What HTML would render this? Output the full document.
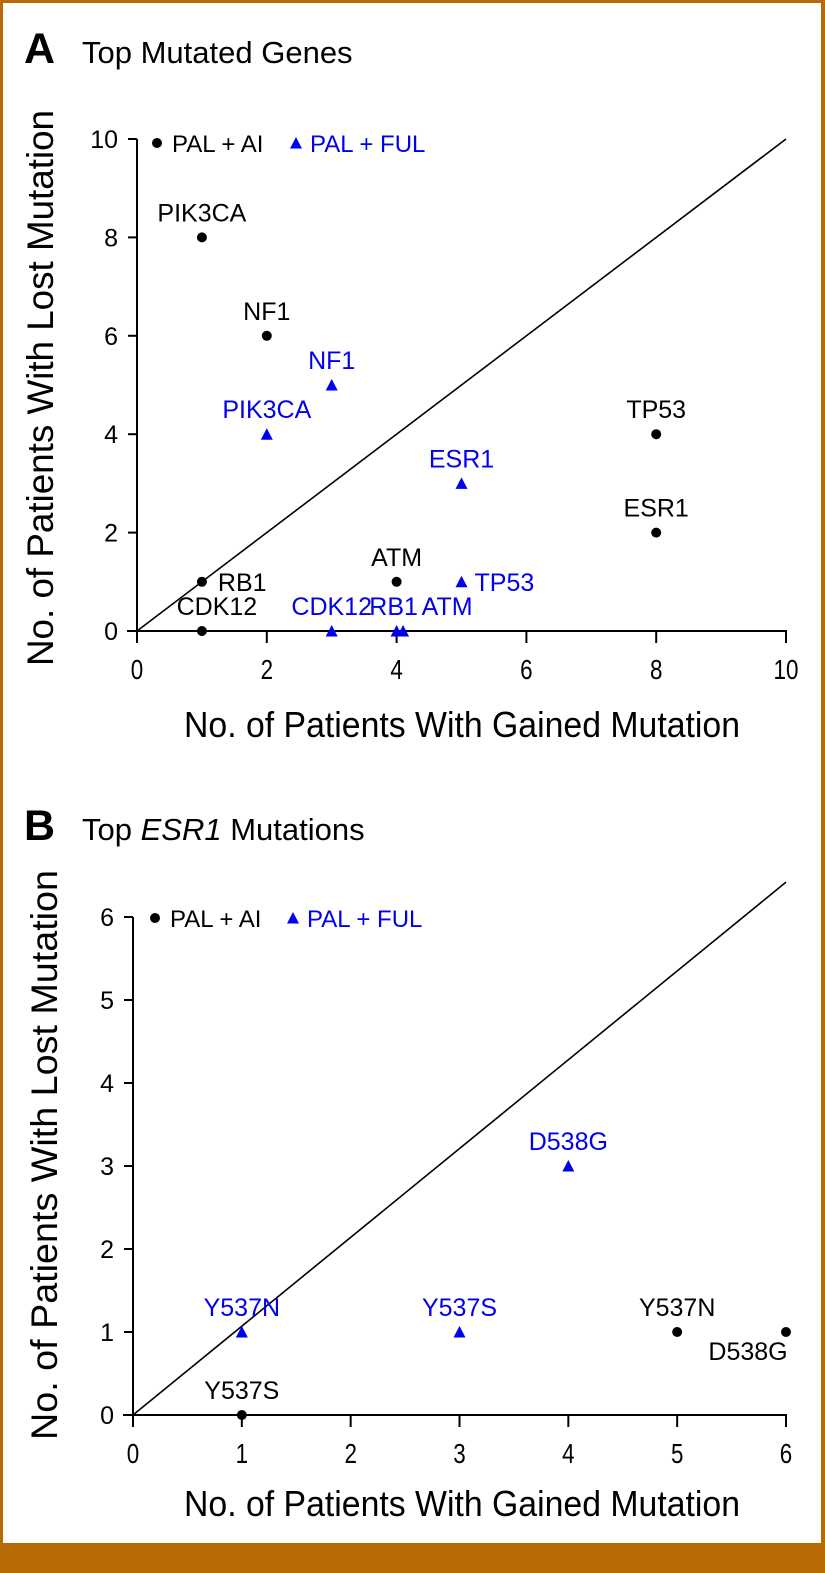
<!DOCTYPE html>
<html><head><meta charset="utf-8"><style>
html,body{margin:0;padding:0;background:#fff}
svg{display:block}
text{font-family:"Liberation Sans",sans-serif}
</style></head><body>
<svg id="fig" width="825" height="1573" viewBox="0 0 825 1573" xmlns="http://www.w3.org/2000/svg">
<rect x="0" y="0" width="825" height="1573" fill="#b86a05"/>
<rect x="3" y="3" width="818" height="1540" fill="#fff"/>
<g id="gA"></g>
<g id="gB"></g>
</svg>
<script>
// Panel A data
const aCirLabels = ["PIK3CA","NF1","TP53","ESR1","ATM","RB1","CDK12"];
const aCirX = [1,2,8,8,4,1,1];
const aCirY = [8,6,4,2,1,1,0];
const aTriLabels = ["NF1","PIK3CA","ESR1","TP53","CDK12","RB1","ATM"];
const aTriX = [3,2,5,5,3,4,4.1];
const aTriY = [5,4,3,1,0,0,0];
const aTicks = [0,2,4,6,8,10];
// Panel B data
const bCirLabels = ["Y537S","Y537N","D538G"];
const bCirX = [1,5,6];
const bCirY = [0,1,1];
const bTriLabels = ["Y537N","Y537S","D538G"];
const bTriX = [1,3,4];
const bTriY = [1,1,3];
const bTicks = [0,1,2,3,4,5,6];

const NS="http://www.w3.org/2000/svg";
const LF=25, LOFF=-16;
function mk(parent,tag,attrs,txt){const e=document.createElementNS(NS,tag);for(const k in attrs)e.setAttribute(k,attrs[k]);if(txt!==undefined)e.textContent=txt;parent.appendChild(e);return e;}

function panel(g,cfg){
  const sx=v=>cfg.x0+(v-cfg.min)/(cfg.max-cfg.min)*(cfg.x1-cfg.x0);
  const sy=v=>cfg.y0-(v-cfg.min)/(cfg.max-cfg.min)*(cfg.y0-cfg.y1);
  let t;
  t=mk(g,'text',{x:24,y:cfg.titleY,'font-size':43,'font-weight':'bold'},cfg.letter);
  
  
  t=mk(g,'text',{x:82,y:cfg.titleY,'font-size':31});
  
  
  cfg.title(t);
  let a=mk(g,'line',{x1:cfg.x0,y1:cfg.y1,x2:cfg.x0,y2:cfg.y0+1,stroke:'#000','stroke-width':2});
  
  
  a=mk(g,'line',{x1:cfg.x0-10,y1:cfg.y0,x2:cfg.x1+1,y2:cfg.y0,stroke:'#000','stroke-width':2});
  
  
  cfg.ticks.forEach(v=>{
    let l=mk(g,'line',{x1:sx(v),y1:cfg.y0,x2:sx(v),y2:cfg.y0+12,stroke:'#000','stroke-width':2});
    
    
    let tx=mk(g,'text',{x:0,y:0,'font-size':28,'text-anchor':'middle',transform:`translate(${sx(v)},${cfg.y0+48}) scale(0.8,1)`},String(v));
    
    
    l=mk(g,'line',{x1:cfg.x0-9,y1:sy(v),x2:cfg.x0,y2:sy(v),stroke:'#000','stroke-width':2});
    
    
    tx=mk(g,'text',{x:cfg.x0-19,y:sy(v)+9,'font-size':25,'text-anchor':'end'},String(v));
    
    
  });
  let d=mk(g,'line',{x1:sx(0),y1:sy(0),x2:sx(cfg.max),y2:sy(cfg.diagEnd),stroke:'#000','stroke-width':1.6});
  
  
  let xt=mk(g,'text',{x:cfg.xtX,y:cfg.xtY,'font-size':36,textLength:556,lengthAdjust:'spacingAndGlyphs'},'No. of Patients With Gained Mutation');
  
  
  let yt=mk(g,'text',{x:0,y:0,'font-size':37,'text-anchor':'middle',textLength:cfg.ytLen,lengthAdjust:'spacingAndGlyphs',transform:`translate(${cfg.ytX},${cfg.ytC}) rotate(-90)`},'No. of Patients With Lost Mutation');
  
  
  let c=mk(g,'circle',{cx:cfg.legX,cy:cfg.legY,r:5,fill:'#000'});
  
  
  let lt=mk(g,'text',{x:cfg.legX+15,y:cfg.legY+9,'font-size':24},'PAL + AI');
  
  
  let tr=mk(g,'path',{d:tri(cfg.legX2,cfg.legY),fill:'#0000ee'});
  
  
  lt=mk(g,'text',{x:cfg.legX2+14,y:cfg.legY+9,'font-size':24,fill:'#0000ee'},'PAL + FUL');
  
  
  cfg.cx.forEach((v,i)=>{
    const px=sx(v),py=sy(cfg.cy[i]);
    let p=mk(g,'circle',{cx:px,cy:py,r:5,fill:'#000'});
    
    
    const o=(cfg.cOff[i]||[0,LOFF,'middle']);
    let lb=mk(g,'text',{x:px+o[0],y:py+o[1],'font-size':LF,'text-anchor':o[2]},cfg.cl[i]);
    
    
  });
  cfg.tx.forEach((v,i)=>{
    const px=sx(v),py=sy(cfg.ty[i]);
    let p=mk(g,'path',{d:tri(px,py),fill:'#0000ee'});
    
    
    const o=(cfg.tOff[i]||[0,LOFF,'middle']);
    let lb=mk(g,'text',{x:px+o[0],y:py+o[1],'font-size':LF,'text-anchor':o[2],fill:'#0000ee'},cfg.tl[i]);
    
    
  });
}
function tri(x,y){return `M${x-6},${y+5.5} L${x+6},${y+5.5} L${x},${y-6} Z`;}

panel(document.getElementById('gA'),{
  letter:'A',titleY:63,title:t=>{t.textContent='Top Mutated Genes';},
  x0:137,x1:786,y0:631,y1:139,min:0,max:10,diagEnd:10,ticks:aTicks,
  xtX:184,xtY:737,ytX:53,ytC:388,ytLen:556,
  legX:157,legX2:296,legY:143,
  cl:aCirLabels,cx:aCirX,cy:aCirY,tl:aTriLabels,tx:aTriX,ty:aTriY,
  cOff:[null,null,null,null,null,[16,9,'start'],[15,LOFF,'middle']],
  tOff:[null,null,null,[13,9,'start'],null,[-3,LOFF,'middle'],[44,LOFF,'middle']]
});
panel(document.getElementById('gB'),{
  letter:'B',titleY:840,title:t=>{
    t.appendChild(document.createTextNode('Top '));
    const i=document.createElementNS(NS,'tspan');i.setAttribute('font-style','italic');i.textContent='ESR1';t.appendChild(i);
    t.appendChild(document.createTextNode(' Mutations'));},
  x0:133,x1:786,y0:1415,y1:917,min:0,max:6,diagEnd:6.42,ticks:bTicks,
  xtX:184,xtY:1516,ytX:57,ytC:1155,ytLen:570,
  legX:155,legX2:293,legY:918,
  cl:bCirLabels,cx:bCirX,cy:bCirY,tl:bTriLabels,tx:bTriX,ty:bTriY,
  cOff:[null,null,[-38,28,'middle']],
  tOff:[null,null,null]
});
</script>
</body></html>
